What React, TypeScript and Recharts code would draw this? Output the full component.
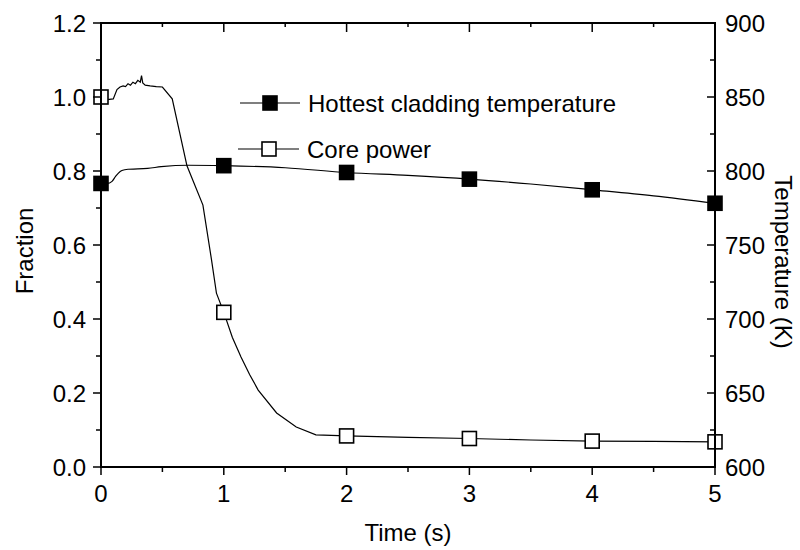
import { Line, LineChart, XAxis, YAxis } from "recharts";

// core power (fraction)
const TIME_POWER = [
  0, 0.05, 0.1, 0.13, 0.155, 0.18, 0.2, 0.22, 0.24, 0.26, 0.28, 0.3, 0.32, 0.33, 0.34, 0.36, 0.4, 0.45,
  0.5, 0.58, 0.7, 0.83, 0.9, 0.94, 1, 1.07, 1.14, 1.21, 1.28, 1.43, 1.59, 1.75, 2, 2.5, 3, 3.5, 4, 4.5, 5,
];
const CORE_POWER = [
  1.0, 0.993, 0.995, 1.02, 1.027, 1.03, 1.028, 1.036, 1.032, 1.04, 1.036, 1.045, 1.04, 1.058, 1.038, 1.032, 1.03, 1.028,
  1.027, 0.995, 0.814, 0.708, 0.56, 0.47, 0.418, 0.35, 0.297, 0.25, 0.208, 0.146, 0.108, 0.087, 0.084, 0.08, 0.077, 0.073, 0.07, 0.069, 0.068,
];

// hottest cladding temperature (K)
const TIME_TEMP = [0, 0.05, 0.09, 0.12, 0.14, 0.17, 0.22, 0.3, 0.38, 0.49, 0.71, 1, 1.5, 2, 2.5, 3, 3.5, 4, 4.5, 5];
const CLAD_TEMP = [
  791.6, 791.6, 793, 796.5, 798.4, 800.3, 801.2, 801.4, 801.8, 802.9, 803.9, 803.6, 802.2, 799, 797, 794.5, 791.2, 787.3, 783.2, 778.2,
];

const TIME_TICKS = [0, 0.5, 1, 1.5, 2, 2.5, 3, 3.5, 4, 4.5, 5];
const FRACTION_TICKS = [0, 0.1, 0.2, 0.3, 0.4, 0.5, 0.6, 0.7, 0.8, 0.9, 1.0, 1.1, 1.2];
const TEMP_TICKS = [600, 625, 650, 675, 700, 725, 750, 775, 800, 825, 850, 875, 900];

const TEMP_NAME = "Hottest cladding temperature";
const POWER_NAME = "Core power";

const FONT = "Arial, 'Liberation Sans', sans-serif";
const FS = 24;

// plot frame
const PLOT = { left: 101, right: 715, top: 23, bottom: 467 };

const powerData = TIME_POWER.map((t, i) => ({ t, v: CORE_POWER[i] }));
const tempData = TIME_TEMP.map((t, i) => ({ t, v: CLAD_TEMP[i] }));

function BottomTick({ x, y, payload }: any) {
  const v = payload.value;
  const major = Number.isInteger(v);
  return (
    <g>
      <line x1={x} x2={x} y1={y} y2={y + (major ? 8 : 5)} stroke="#000" strokeWidth={1.5} />
      {major && (
        <text x={x} y={y + 35} textAnchor="middle" fontSize={FS} fontFamily={FONT} fill="#000">
          {v}
        </text>
      )}
    </g>
  );
}

function LeftTick({ x, y, payload }: any) {
  const v = payload.value;
  const major = Math.round(v * 10) % 2 === 0;
  return (
    <g>
      <line x1={x} x2={x - (major ? 8 : 5)} y1={y} y2={y} stroke="#000" strokeWidth={1.5} />
      {major && (
        <text x={x - 15} y={y} dy="0.36em" textAnchor="end" fontSize={FS} fontFamily={FONT} fill="#000">
          {v.toFixed(1)}
        </text>
      )}
    </g>
  );
}

function RightTick({ x, y, payload }: any) {
  const v = payload.value;
  const major = v % 50 === 0;
  return (
    <g>
      <line x1={x} x2={x - (major ? 8 : 5)} y1={y} y2={y} stroke="#000" strokeWidth={1.5} />
      {major && (
        <text x={x + 10} y={y} dy="0.36em" textAnchor="start" fontSize={FS} fontFamily={FONT} fill="#000">
          {v}
        </text>
      )}
    </g>
  );
}

const squareDot = (filled: boolean) => (p: any) => {
  const { cx, cy, payload, index } = p;
  if (!Number.isInteger(payload.t)) return <g key={`d${index}`} />;
  return (
    <rect
      key={`d${index}`}
      x={cx - 7}
      y={cy - 7}
      width={14}
      height={14}
      fill={filled ? "#000" : "#fff"}
      stroke="#000"
      strokeWidth={1.6}
    />
  );
};

const axisLine = { stroke: "#000", strokeWidth: 1.8 };

export default function App() {
  const tx = (t: number) => PLOT.left + ((PLOT.right - PLOT.left) * t) / 5;
  return (
    <div style={{ position: "absolute", left: 0, top: 0, width: 800, height: 550, background: "#fff" }}>
      <LineChart width={800} height={550} margin={{ top: PLOT.top, right: 0, bottom: 0, left: 0 }}>
        <XAxis
          xAxisId="bottom"
          dataKey="t"
          type="number"
          domain={[0, 5]}
          ticks={TIME_TICKS}
          interval={0}
          height={550 - PLOT.bottom}
          tickSize={0}
          tickMargin={0}
          tickLine={false}
          axisLine={axisLine}
          tick={<BottomTick />}
        />
        <YAxis
          yAxisId="left"
          type="number"
          domain={[0, 1.2]}
          ticks={FRACTION_TICKS}
          interval={0}
          width={PLOT.left}
          tickSize={0}
          tickMargin={0}
          tickLine={false}
          axisLine={axisLine}
          tick={<LeftTick />}
        />
        <YAxis
          yAxisId="right"
          orientation="right"
          type="number"
          domain={[600, 900]}
          ticks={TEMP_TICKS}
          interval={0}
          width={800 - PLOT.right}
          tickSize={0}
          tickMargin={0}
          tickLine={false}
          axisLine={axisLine}
          tick={<RightTick />}
        />
        <Line
          data={tempData}
          xAxisId="bottom"
          yAxisId="right"
          dataKey="v"
          name={TEMP_NAME}
          type="monotone"
          stroke="#000"
          strokeWidth={1.2}
          dot={squareDot(true)}
          isAnimationActive={false}
        />
        <Line
          data={powerData}
          xAxisId="bottom"
          yAxisId="left"
          dataKey="v"
          name={POWER_NAME}
          type="linear"
          stroke="#000"
          strokeWidth={1.2}
          dot={squareDot(false)}
          isAnimationActive={false}
        />
      </LineChart>
      <svg
        width={800}
        height={550}
        style={{ position: "absolute", left: 0, top: 0, pointerEvents: "none" }}
        fontFamily={FONT}
        fontSize={FS}
      >
        {/* full plot frame, so the top edge is closed */}
        <rect
          x={PLOT.left}
          y={PLOT.top}
          width={PLOT.right - PLOT.left}
          height={PLOT.bottom - PLOT.top}
          fill="none"
          stroke="#000"
          strokeWidth={2}
        />
        {/* inward ticks on the top frame */}
        {TIME_TICKS.map((t) => (
          <line
            key={t}
            x1={tx(t)}
            x2={tx(t)}
            y1={PLOT.top}
            y2={PLOT.top + (Number.isInteger(t) ? 9 : 4)}
            stroke="#000"
            strokeWidth={1.5}
          />
        ))}
        {/* legend */}
        <line x1={240} x2={300} y1={103} y2={103} stroke="#000" strokeWidth={1.2} />
        <rect x={263} y={96} width={14} height={14} fill="#000" stroke="#000" strokeWidth={1.6} />
        <text x={308} y={112} fill="#000">{TEMP_NAME}</text>
        <line x1={238} x2={299} y1={149} y2={149} stroke="#000" strokeWidth={1.2} />
        <rect x={262} y={142} width={14} height={14} fill="#fff" stroke="#000" strokeWidth={1.6} />
        <text x={307} y={158} fill="#000">{POWER_NAME}</text>
        {/* axis titles */}
        <text x={408} y={541} textAnchor="middle" fill="#000">Time (s)</text>
        <text x={33} y={251} textAnchor="middle" fill="#000" transform="rotate(-90 33 251)">Fraction</text>
        <text x={775} y={262} textAnchor="middle" fill="#000" transform="rotate(90 775 262)">Temperature (K)</text>
      </svg>
    </div>
  );
}
